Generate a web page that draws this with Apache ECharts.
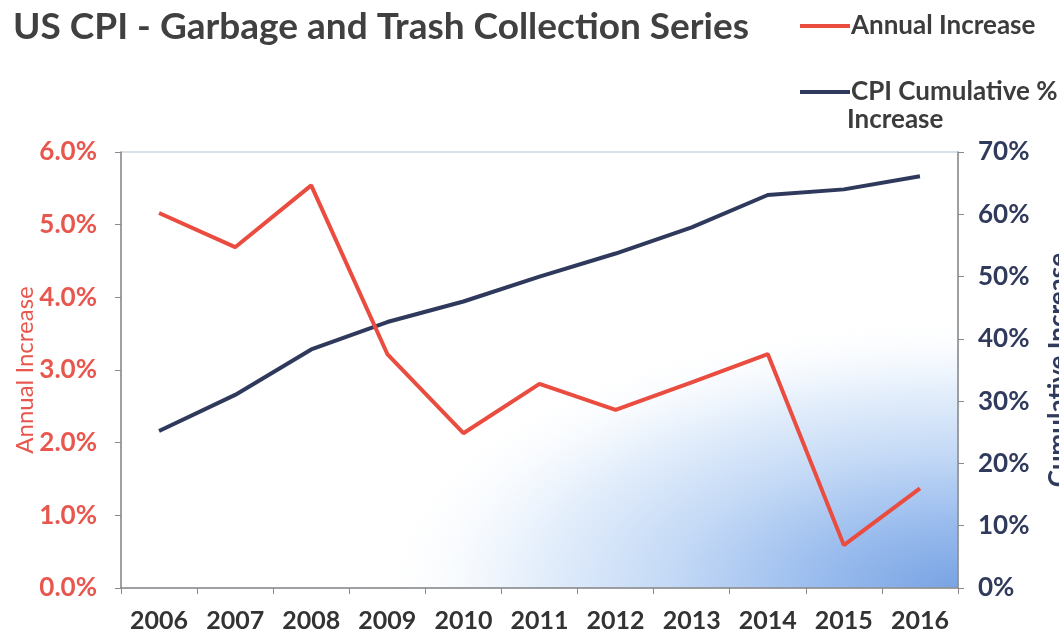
<!DOCTYPE html>
<html>
<head>
<meta charset="utf-8">
<script src="https://cdn.jsdelivr.net/npm/echarts@6/dist/echarts.min.js"></script>
<style>
html,body{margin:0;padding:0;background:#fff;overflow:hidden;}
#chart{width:1059px;height:638px;}
</style>
</head>
<body>
<div id="chart"></div>
<script>
const years = ['2006','2007','2008','2009','2010','2011','2012','2013','2014','2015','2016'];
const annualIncrease = [5.16, 4.69, 5.54, 3.22, 2.13, 2.81, 2.45, 2.83, 3.22, 0.59, 1.37];
const cumulativeIncrease = [25.2, 31.0, 38.3, 42.7, 46.0, 50.0, 53.7, 57.9, 63.1, 64.0, 66.1];
const leftTicks = [0, 1, 2, 3, 4, 5, 6];
const rightTicks = [0, 10, 20, 30, 40, 50, 60, 70];

const FONT = 'Lato';
const RED = '#EA4C3F';
const RED_TXT = '#E8574E';
const NAVY = '#2E395C';
const NAVY_TXT = '#2F3A5C';
const GRAY_TXT = '#3c3c3c';

const GRID = { left: 121, right: 101, top: 152, bottom: 50 };
const W = 1059, H = 638;
const plotW = W - GRID.left - GRID.right;
const plotH = H - GRID.top - GRID.bottom;
const STRETCH = 2.14;

const chart = echarts.init(document.getElementById('chart'));
chart.setOption({
  animation: false,
  textStyle: { fontFamily: FONT },
  title: {
    text: 'US CPI - Garbage and Trash Collection Series',
    left: 8, top: 4,
    textStyle: { fontFamily: FONT, fontWeight: 'bold', fontSize: 37, color: '#404040' }
  },
  legend: [{
    data: ['Annual Increase'],
    left: 795, top: 8,
    icon: 'rect', itemWidth: 50, itemHeight: 4, itemGap: 4,
    textStyle: { fontFamily: FONT, fontWeight: 'bold', fontSize: 26, color: GRAY_TXT, padding: [0,0,0,-4] }
  }, {
    data: ['CPI Cumulative % Increase'],
    left: 795, top: 74,
    icon: 'rect', itemWidth: 50, itemHeight: 4,
    formatter: function () { return 'CPI Cumulative %'; },
    textStyle: { fontFamily: FONT, fontWeight: 'bold', fontSize: 26, color: GRAY_TXT, padding: [0,0,0,-4] }
  }],
  graphic: [{
    type: 'rect',
    x: GRID.left, y: GRID.top,
    scaleX: STRETCH,
    shape: { x: 0, y: 0, width: plotW / STRETCH, height: plotH },
    silent: true,
    z: -10,
    style: {
      fill: {
        type: 'radial', x: 1, y: 1, r: 0.7,
        colorStops: [
          { offset: 0, color: '#78a3e3' },
          { offset: 0.25, color: '#9bbdee' },
          { offset: 0.5, color: '#c5daf6' },
          { offset: 0.75, color: '#e8f1fc' },
          { offset: 1, color: 'rgba(255,255,255,0)' }
        ]
      }
    }
  }, {
    type: 'text', left: 847, top: 107,
    style: { text: 'Increase', font: 'bold 26px Lato', fill: GRAY_TXT }
  }],
  grid: {
    left: GRID.left, right: GRID.right, top: GRID.top, bottom: GRID.bottom,
    outerBoundsMode: 'none',
    containLabel: false,
    show: true,
    borderColor: '#b3c3d8', borderWidth: 1,
    backgroundColor: 'transparent'
  },
  xAxis: {
    type: 'category',
    data: years,
    boundaryGap: true,
    axisLine: { lineStyle: { color: '#8a8a8a', width: 1.5 } },
    axisTick: { show: true, length: 6, inside: false, lineStyle: { color: '#8a8a8a' } },
    axisLabel: { fontFamily: FONT, fontWeight: 'bold', fontSize: 25, color: '#333333', margin: 20 }
  },
  yAxis: [{
    type: 'value',
    min: 0, max: 6, interval: 1,
    position: 'left',
    name: 'Annual Increase',
    nameLocation: 'middle', nameGap: 84, nameRotate: 90,
    nameMoveOverlap: false,
    nameTextStyle: { fontFamily: FONT, fontSize: 24, color: RED_TXT },
    axisLine: { show: true, lineStyle: { color: '#8a8a8a', width: 1.5 } },
    axisTick: { show: true, length: 6, lineStyle: { color: '#8a8a8a' } },
    splitLine: { show: false },
    axisLabel: {
      fontFamily: FONT, fontWeight: 'bold', fontSize: 26, color: RED_TXT, margin: 24,
      formatter: function (v) { return leftTicks.indexOf(v) >= 0 ? v.toFixed(1) + '%' : ''; }
    }
  }, {
    type: 'value',
    min: 0, max: 70, interval: 10,
    position: 'right',
    name: 'Cumulative Increase',
    nameLocation: 'middle', nameGap: 88, nameRotate: 90,
    nameMoveOverlap: false,
    nameTextStyle: { fontFamily: FONT, fontWeight: 'bold', fontSize: 26, color: NAVY_TXT },
    axisLine: { show: true, lineStyle: { color: '#8a8a8a', width: 1.5 } },
    axisTick: { show: true, length: 6, lineStyle: { color: '#8a8a8a' } },
    splitLine: { show: false },
    axisLabel: {
      fontFamily: FONT, fontWeight: 'bold', fontSize: 26, color: NAVY_TXT, margin: 20,
      formatter: function (v) { return rightTicks.indexOf(v) >= 0 ? v + '%' : ''; }
    }
  }],
  series: [{
    name: 'Annual Increase',
    type: 'line',
    yAxisIndex: 0,
    data: annualIncrease,
    symbol: 'none',
    lineStyle: { color: RED, width: 4 },
    itemStyle: { color: RED },
    z: 3
  }, {
    name: 'CPI Cumulative % Increase',
    type: 'line',
    yAxisIndex: 1,
    data: cumulativeIncrease,
    symbol: 'none',
    lineStyle: { color: NAVY, width: 4 },
    itemStyle: { color: NAVY },
    z: 2
  }]
});
</script>
</body>
</html>
